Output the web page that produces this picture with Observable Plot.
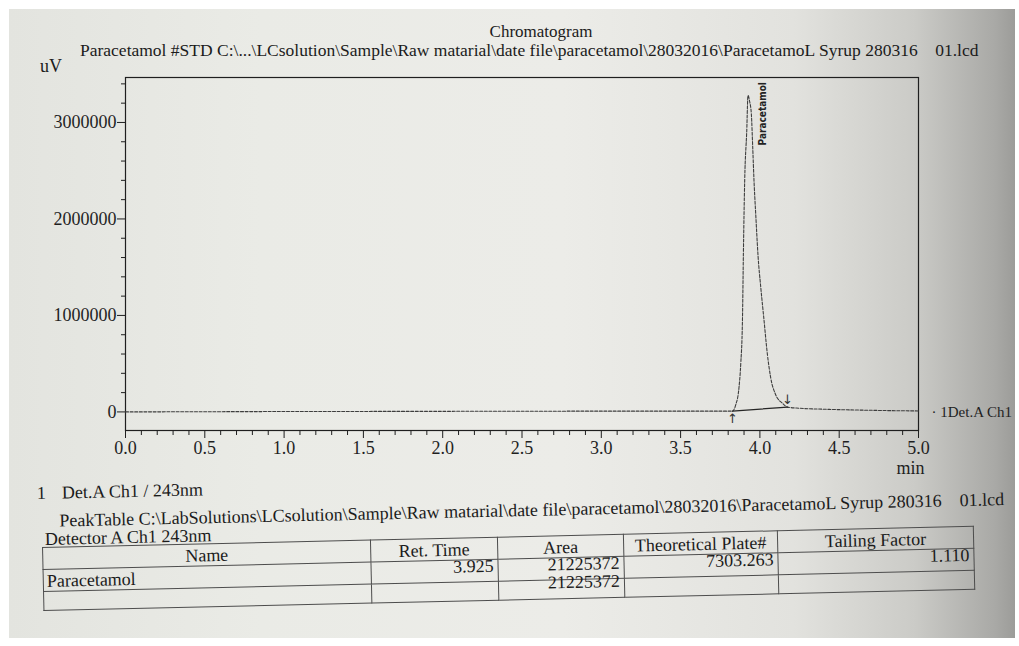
<!DOCTYPE html>
<html>
<head>
<meta charset="utf-8">
<script src="https://cdn.jsdelivr.net/npm/d3@7"></script>
<script src="https://cdn.jsdelivr.net/npm/@observablehq/plot@0.6"></script>
<style>
  html, body { margin: 0; padding: 0; width: 1019px; height: 646px; overflow: hidden; background: #ffffff; }
  #paper {
    position: absolute; left: 9px; top: 9px; width: 1006px; height: 629px;
    background: linear-gradient(90deg, #e3e4df 0%, #eaebe6 25%, #ecece8 55%, #e2e2de 78%, #cbcbc7 90%, #a9a9a6 98%, #9c9c99 100%);
  }
  .t {
    position: absolute; font-family: "Liberation Serif", "DejaVu Serif", serif;
    font-size: 18px; line-height: 18px; color: #1b1b1b; white-space: pre;
  }
  #chart { position: absolute; left: 0; top: 60px; }
  #lower {
    position: absolute; left: 0; top: 0; width: 1019px; height: 646px;
    transform-origin: 42px 546px; transform: rotate(-1.3deg);
  }
  #peaktable {
    position: absolute; left: 42px; top: 547px; border-collapse: collapse;
    font-family: "Liberation Serif", "DejaVu Serif", serif; font-size: 18px; color: #1b1b1b;
    table-layout: fixed;
  }
  #peaktable td, #peaktable th {
    border: 1px solid #4d4d4d; padding: 0 4px; line-height: 18px; font-weight: normal;
    white-space: nowrap; overflow: visible;
  }
  #peaktable th { text-align: center; vertical-align: middle; height: 21px; }
  #peaktable td { height: 21px; }
  #peaktable tr.last td { height: 15px; }
  #peaktable td.num { text-align: right; vertical-align: top; }
  #peaktable td.num span { position: relative; top: -3px; }
  #peaktable tr.last td.num span { top: -7px; }
  #peaktable td.name { text-align: left; padding-left: 3px; vertical-align: middle; }
</style>
</head>
<body>
<div id="paper"></div>

<div class="t" style="left:541px; top:23px; transform:translateX(-50%); font-size:17px;">Chromatogram</div>
<div class="t" id="fileline" style="left:80px; top:41px; font-size:17.5px;">Paracetamol #STD C:\...\LCsolution\Sample\Raw matarial\date file\paracetamol\28032016\ParacetamoL Syrup 280316    01.lcd</div>
<div class="t" style="left:40px; top:57px;">uV</div>

<div id="chart"></div>

<div id="lower">
  <div class="t" style="left:38px; top:484px;">1</div>
  <div class="t" style="left:63px; top:484px;">Det.A Ch1 / 243nm</div>
  <div class="t" id="tableline" style="left:60px; top:512px;">PeakTable C:\LabSolutions\LCsolution\Sample\Raw matarial\date file\paracetamol\28032016\ParacetamoL Syrup 280316    01.lcd</div>
  <div class="t" style="left:45px; top:530px;">Detector A Ch1 243nm</div>
  <table id="peaktable"></table>
</div>

<script>
// Chromatogram trace, Det.A Ch1 (243 nm): time in minutes, response in uV
const retentionTime = [0.00, 0.50, 1.00, 1.50, 2.00, 2.50, 3.00, 3.50, 3.70, 3.827,
  3.847, 3.868, 3.879, 3.890, 3.896, 3.904, 3.917, 3.925, 3.935, 3.946, 3.955, 3.963,
  3.974, 3.989, 4.005, 4.026, 4.047, 4.068, 4.100, 4.142, 4.174, 4.25, 4.40, 4.60, 4.80, 5.00];
const intensityUV = [0, 2000, 4000, 5000, 6000, 7000, 8000, 8000, 8000, 8000,
  70000, 250000, 490000, 950000, 1650000, 2390000, 2910000, 3280000, 3220000, 3090000, 2730000, 2390000,
  2040000, 1600000, 1300000, 950000, 600000, 355000, 176000, 90000, 50000, 38000, 28000, 20000, 14000, 10000];

// Integration baseline drawn under the peak (start and end marks)
const integrationTime = [3.827, 4.174];
const integrationUV = [8000, 50000];

// Peak table
const peakNames = ["Paracetamol"];
const peakRetTime = [3.925];
const peakArea = [21225372];
const peakPlates = [7303.263];
const peakTailing = [1.110];
const areaTotal = 21225372;

// Axis ticks
const xTicks = [0.0, 0.5, 1.0, 1.5, 2.0, 2.5, 3.0, 3.5, 4.0, 4.5, 5.0];
const xMinorTicks = [0.1, 0.2, 0.3, 0.4, 0.6, 0.7, 0.8, 0.9, 1.1, 1.2, 1.3, 1.4, 1.6, 1.7, 1.8, 1.9,
  2.1, 2.2, 2.3, 2.4, 2.6, 2.7, 2.8, 2.9, 3.1, 3.2, 3.3, 3.4, 3.6, 3.7, 3.8, 3.9,
  4.1, 4.2, 4.3, 4.4, 4.6, 4.7, 4.8, 4.9];
const yTicks = [0, 1000000, 2000000, 3000000];
const yMinorTicks = [200000, 400000, 600000, 800000, 1200000, 1400000, 1600000, 1800000,
  2200000, 2400000, 2600000, 2800000, 3200000, 3400000];

const trace = retentionTime.map((t, i) => ({t, v: intensityUV[i]}));
const integration = integrationTime.map((t, i) => ({t, v: integrationUV[i]}));
const peaks = peakNames.map((name, i) => ({
  name, t: peakRetTime[i],
  v: d3.max(trace.filter(d => Math.abs(d.t - peakRetTime[i]) < 0.2), d => d.v)
}));
const traceEnd = trace[trace.length - 1];

const ink = "#1f1f1f";
const serif = "'Liberation Serif', 'DejaVu Serif', serif";

const chart = Plot.plot({
  width: 1019,
  height: 410,
  marginLeft: 125,
  marginRight: 101,
  marginTop: 17,
  marginBottom: 40,
  x: {domain: [0, 5]},
  y: {domain: [-192600, 3466000]},
  style: {fontFamily: serif, fontSize: "18px", color: ink, background: "transparent", overflow: "visible"},
  marks: [
    Plot.frame({stroke: ink, strokeWidth: 1.2}),
    Plot.axisX(xTicks, {tickSize: 8, tickPadding: 3, tickFormat: d3.format(".1f"), label: null, stroke: ink, fill: ink, fontSize: 18}),
    Plot.axisX(xMinorTicks, {tickSize: 5, fill: "none", label: null, stroke: ink}),
    Plot.axisY(yTicks, {tickSize: 8, tickPadding: 1, tickFormat: d => String(d), label: null, stroke: ink, fill: ink, fontSize: 18}),
    Plot.axisY(yMinorTicks, {tickSize: 4, fill: "none", label: null, stroke: ink}),
    Plot.text(["min"], {x: 5, frameAnchor: "bottom", dy: 43, dx: -8, fill: ink, fontSize: 18}),
    // signal trace
    Plot.line(trace, {x: "t", y: "v", curve: "monotone-x", stroke: "#3e3e3e", strokeWidth: 1.1, strokeDasharray: "3,1.6"}),
    // integration baseline and its start/end markers
    Plot.line(integration, {x: "t", y: "v", stroke: "#262626", strokeWidth: 1.3}),
    Plot.text([integration[0]], {x: "t", y: "v", text: () => "↑", dy: 8, fontSize: 13, fontFamily: "'DejaVu Sans', sans-serif", fill: "#333"}),
    Plot.text([integration[1]], {x: "t", y: "v", text: () => "↓", dy: -7, fontSize: 13, fontFamily: "'DejaVu Sans', sans-serif", fill: "#333"}),
    // peak name
    Plot.text(peaks, {x: "t", y: "v", text: "name", rotate: -90, textAnchor: "start", dx: 15, dy: 50,
      fontSize: 10, fontWeight: "bold", fontFamily: "'Liberation Sans Narrow', 'DejaVu Sans Condensed', sans-serif", fill: "#222"}),
    // channel label at the end of the trace
    Plot.text([traceEnd], {x: "t", y: "v", text: () => "· 1Det.A Ch1", textAnchor: "start", dx: 13, dy: 1, fontSize: 15, fill: ink})
  ]
});
document.getElementById("chart").appendChild(chart);

// Peak table rows
const fmtInt = d3.format("d");
const table = document.getElementById("peaktable");
const colWidths = [328, 127, 126, 154, 196];
table.innerHTML =
  `<colgroup>${colWidths.map(w => `<col style="width:${w}px">`).join("")}</colgroup>` +
  `<tr><th>Name</th><th>Ret. Time</th><th>Area</th><th>Theoretical Plate#</th><th>Tailing Factor</th></tr>` +
  peakNames.map((n, i) =>
    `<tr><td class="name">${n}</td>` +
    `<td class="num"><span>${peakRetTime[i].toFixed(3)}</span></td>` +
    `<td class="num"><span>${fmtInt(peakArea[i])}</span></td>` +
    `<td class="num"><span>${peakPlates[i].toFixed(3)}</span></td>` +
    `<td class="num"><span>${peakTailing[i].toFixed(3)}</span></td></tr>`).join("") +
  `<tr class="last"><td></td><td></td><td class="num"><span>${fmtInt(areaTotal)}</span></td><td></td><td></td></tr>`;
table.style.width = d3.sum(colWidths) + "px";
</script>
</body>
</html>
